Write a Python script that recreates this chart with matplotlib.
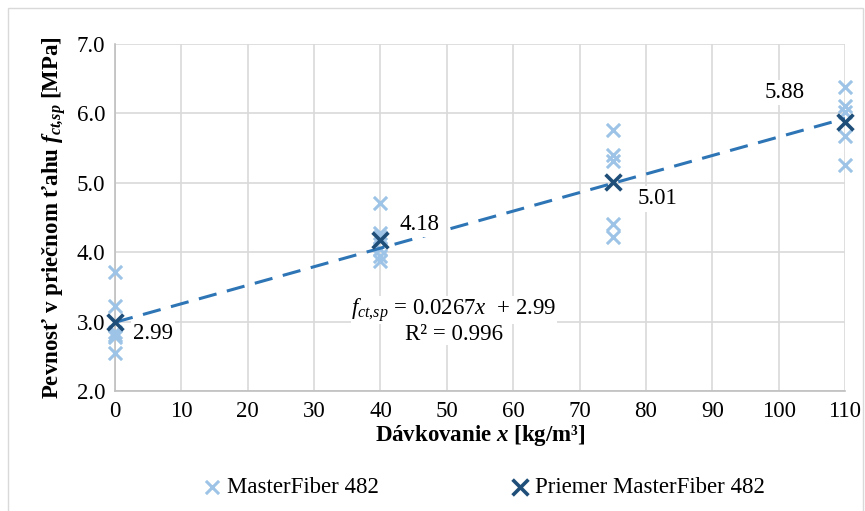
import matplotlib
matplotlib.use("Agg")
import matplotlib.pyplot as plt
import numpy as np

plt.rcParams['font.family'] = ['Liberation Serif', 'DejaVu Serif']
plt.rcParams['mathtext.fontset'] = 'custom'
plt.rcParams['mathtext.rm'] = 'Liberation Serif'
plt.rcParams['mathtext.it'] = 'Liberation Serif:italic'
plt.rcParams['mathtext.bf'] = 'Liberation Serif:bold'
plt.rcParams['mathtext.bfit'] = 'Liberation Serif:italic:bold'

# Data
dose_0 = [3.72, 3.22, 2.85, 2.80, 2.78, 2.55]
dose_40 = [4.71, 4.27, 4.22, 4.05, 3.95, 3.88]
dose_75 = [5.76, 5.40, 5.32, 4.40, 4.22]
dose_110 = [6.38, 6.10, 6.02, 5.68, 5.26]
doses = [0, 40, 75, 110]
individual = [dose_0, dose_40, dose_75, dose_110]
means = [2.99, 4.18, 5.01, 5.88]
mean_labels = ["2.99", "4.18", "5.01", "5.88"]
slope, intercept = 0.0267, 2.99
xticks = list(range(0, 111, 10))
yticks = [2.0, 3.0, 4.0, 5.0, 6.0, 7.0]

light = '#9DC3E6'
dark = '#1F4E79'
line_c = '#2E75B6'
FS = 16.5

fig = plt.figure(figsize=(8.65, 5.11), dpi=100)
ax = fig.add_axes([115/865, 1-391/511, (845-115)/865, (391-44)/511])

fig.patches.append(plt.Rectangle((8/865, -0.01), 1-10/865, 1-8/511+0.01, transform=fig.transFigure,
                                 fill=False, edgecolor='#D9D9D9', lw=1))

for d, vals in zip(doses, individual):
    ax.scatter([d]*len(vals), vals, marker='x', s=90, color=light, linewidths=2.2, zorder=3, clip_on=False)

xs = np.array([0, 110])
ax.plot(xs, slope*xs + intercept, ls=(0, (6, 3.5)), color=line_c, lw=2.2, zorder=4)
ax.scatter(doses, means, marker='x', s=130, color=dark, linewidths=2.6, zorder=5, clip_on=False)

offsets = [(13, -8, 'left'), (14, 11, 'left'), (18, -12, 'left'), (-29, 21, 'right')]
for d, m, lab, (dx, dy, ha) in zip(doses, means, mean_labels, offsets):
    ax.annotate(lab, (d, m), xytext=(dx, dy), textcoords='offset points', ha=ha, va='center',
                fontsize=FS, zorder=6,
                bbox=dict(boxstyle='square,pad=0.1', fc='white', ec='none'))

ax.text(51.1, 3.17, r"$f_{ct{,}sp}$ = 0.0267$x$  + 2.99", ha='center', va='center', fontsize=FS,
        bbox=dict(boxstyle='square,pad=0.0', fc='white', ec='none'), zorder=6)
ax.text(51.1, 2.82, "R² = 0.996", ha='center', va='center', fontsize=FS,
        bbox=dict(boxstyle='square,pad=0.0', fc='white', ec='none'), zorder=6)

ax.set_xlim(0, 110)
ax.set_ylim(2.0, 7.0)
ax.set_xticks(xticks)
ax.set_yticks(yticks)
ax.set_yticklabels([f"{v:.1f}" for v in yticks])
ax.tick_params(labelsize=FS, length=0, pad=7, colors='black')
ax.grid(True, color='#D9D9D9', lw=1.2)
ax.set_axisbelow(True)
for s in ['top', 'right']:
    ax.spines[s].set_visible(False)
for s in ['left', 'bottom']:
    ax.spines[s].set_color('#BFBFBF')
    ax.spines[s].set_linewidth(1.2)

ax.set_xlabel(r"Dávkovanie $\mathbfit{x}$ [kg/m³]", fontsize=FS, fontweight='bold', labelpad=1)
ax.set_ylabel(r"Pevnosť v priečnom ťahu $\mathbfit{f}_{\mathbfit{ct{,}sp}}$ [MPa]", fontsize=FS,
              fontweight='bold', labelpad=6)

h1 = ax.scatter([], [], marker='x', s=90, color=light, linewidths=2.2)
h2 = ax.scatter([], [], marker='x', s=130, color=dark, linewidths=2.6)
fig.legend([h1, h2], ["MasterFiber 482", "Priemer MasterFiber 482"], loc='center',
           bbox_to_anchor=(0.556, 1-487/511), ncol=2, frameon=False, fontsize=FS,
           handletextpad=0.0, columnspacing=5.5, handlelength=1.3)

fig.savefig("out.png", dpi=100)
